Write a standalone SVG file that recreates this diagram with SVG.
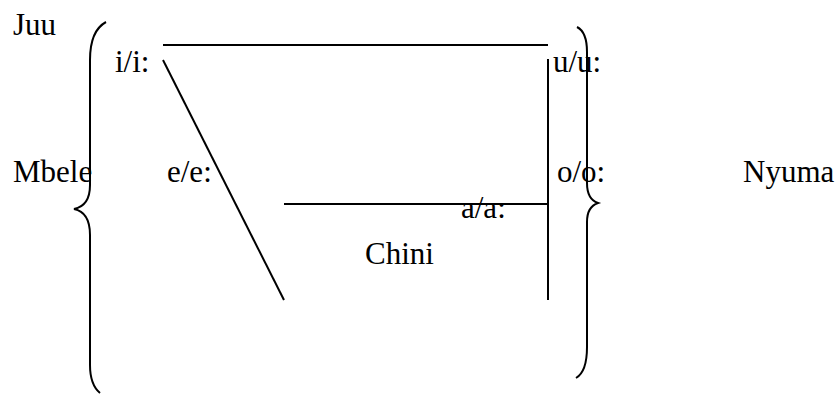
<svg xmlns="http://www.w3.org/2000/svg" width="838" height="394" viewBox="0 0 838 394">
<style>
  text { font-family: "Liberation Serif", "Times New Roman", serif; font-size: 31px; fill: #000; }
  .ln { stroke: #000; stroke-width: 2; fill: none; }
</style>
<rect width="838" height="394" fill="#fff"/>
<g id="braces">
  <path class="ln" d="M106,22 C95,28 90,40 90,60 L90,185 C90,200 84,207 74,209 C84,211 90,218 90,235 L90,365 C90,380 94,388 100,393"/>
  <path class="ln" d="M577,27 C583,30 587,38 587,52 L587,183 C587,195 592,201 598,203 C592,205 587,211 587,222 L587,347 C587,365 583,374 576,378"/>
</g>
<g id="connectors">
  <line class="ln" x1="163" y1="45" x2="548" y2="45"/>
  <line class="ln" x1="548" y1="59" x2="548" y2="300"/>
  <line class="ln" x1="163" y1="60" x2="284" y2="300"/>
  <line class="ln" x1="284" y1="204" x2="548" y2="204"/>
</g>
<g id="labels">
  <text id="juu" x="13" y="35">Juu</text>
  <text id="ii" x="115" y="72">i/i:</text>
  <text id="uu" x="553" y="72">u/u:</text>
  <text id="mbele" x="13" y="182">Mbele</text>
  <text id="ee" x="167" y="182">e/e:</text>
  <text id="oo" x="557" y="182">o/o:</text>
  <text id="nyuma" x="743" y="182">Nyuma</text>
  <text id="aa" x="461" y="218">a/a:</text>
  <text id="chini" x="365" y="264">Chini</text>
</g>
</svg>
